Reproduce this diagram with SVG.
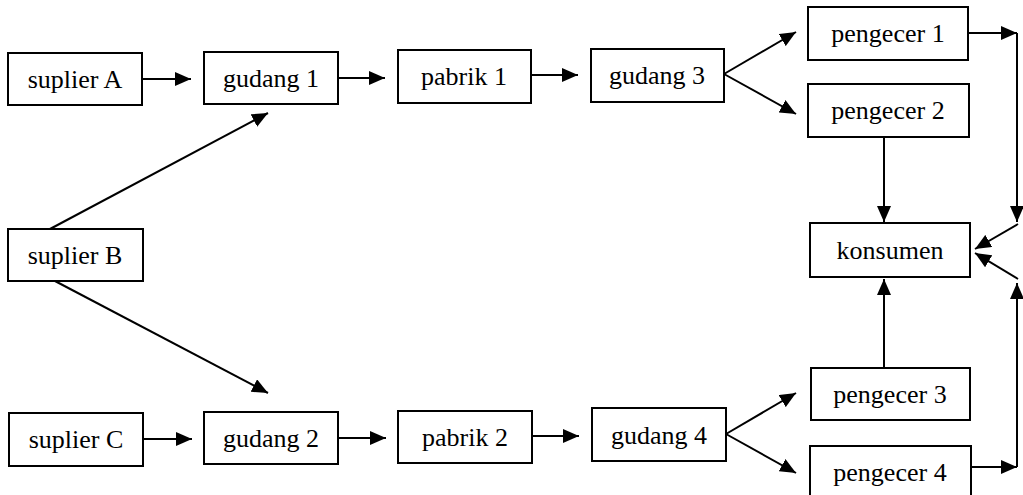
<svg xmlns="http://www.w3.org/2000/svg" width="1023" height="495" viewBox="0 0 1023 495">
<style>
.box{fill:#fff;stroke:#000;stroke-width:2}
.lbl{font-family:"Liberation Serif","Times New Roman",serif;font-size:26px;fill:#000;text-anchor:middle}
.ar{fill:none;stroke:#000;stroke-width:2;marker-end:url(#ah)}
</style>
<defs>
<marker id="ah" markerUnits="userSpaceOnUse" markerWidth="18" markerHeight="14" refX="16" refY="7" orient="auto">
<path d="M0,0 L16,7 L0,14 Z" fill="#000"/>
</marker>
</defs>
<rect width="1023" height="495" fill="#fff"/>
<g id="connectors">
<line class="ar" x1="142" y1="79" x2="191" y2="79"/>
<line class="ar" x1="338" y1="78" x2="385" y2="78"/>
<line class="ar" x1="531" y1="75" x2="578" y2="75"/>
<line class="ar" x1="724" y1="74" x2="796" y2="32"/>
<line class="ar" x1="724" y1="74" x2="796" y2="114"/>
<line class="ar" x1="968" y1="33" x2="1017" y2="33"/>
<line class="ar" x1="1017" y1="33" x2="1017" y2="222"/>
<line class="ar" x1="1018" y1="224" x2="975" y2="249"/>
<line class="ar" x1="884" y1="137" x2="884" y2="222"/>
<line class="ar" x1="884" y1="368" x2="884" y2="279"/>
<line class="ar" x1="971" y1="467" x2="1017" y2="467"/>
<line class="ar" x1="1017" y1="467" x2="1017" y2="283"/>
<line class="ar" x1="1018" y1="279" x2="975" y2="253"/>
<line class="ar" x1="50" y1="229" x2="268" y2="113"/>
<line class="ar" x1="55" y1="281" x2="268" y2="393"/>
<line class="ar" x1="143" y1="439" x2="192" y2="439"/>
<line class="ar" x1="338" y1="438" x2="386" y2="438"/>
<line class="ar" x1="532" y1="436" x2="579" y2="436"/>
<line class="ar" x1="726" y1="434" x2="796" y2="393"/>
<line class="ar" x1="726" y1="434" x2="796" y2="473"/>
</g>
<g id="suplierA"><rect class="box" x="8" y="53" width="134" height="52"/><text class="lbl" x="75" y="88">suplier A</text></g>
<g id="gudang1"><rect class="box" x="204" y="52" width="134" height="52"/><text class="lbl" x="271" y="87">gudang 1</text></g>
<g id="pabrik1"><rect class="box" x="398" y="50" width="133" height="53"/><text class="lbl" x="464" y="85">pabrik 1</text></g>
<g id="gudang3"><rect class="box" x="591" y="49" width="133" height="53"/><text class="lbl" x="657" y="84">gudang 3</text></g>
<g id="pengecer1"><rect class="box" x="808" y="7" width="160" height="53"/><text class="lbl" x="888" y="42">pengecer 1</text></g>
<g id="pengecer2"><rect class="box" x="808" y="84" width="161" height="53"/><text class="lbl" x="888" y="119">pengecer 2</text></g>
<g id="suplierB"><rect class="box" x="8" y="229" width="135" height="52"/><text class="lbl" x="75" y="264">suplier B</text></g>
<g id="konsumen"><rect class="box" x="810" y="223" width="160" height="54"/><text class="lbl" x="890" y="259">konsumen</text></g>
<g id="suplierC"><rect class="box" x="9" y="413" width="134" height="53"/><text class="lbl" x="76" y="448">suplier C</text></g>
<g id="gudang2"><rect class="box" x="204" y="412" width="134" height="52"/><text class="lbl" x="271" y="447">gudang 2</text></g>
<g id="pabrik2"><rect class="box" x="398" y="411" width="134" height="52"/><text class="lbl" x="465" y="446">pabrik 2</text></g>
<g id="gudang4"><rect class="box" x="592" y="408" width="134" height="53"/><text class="lbl" x="659" y="444">gudang 4</text></g>
<g id="pengecer3"><rect class="box" x="811" y="368" width="159" height="52"/><text class="lbl" x="890" y="403">pengecer 3</text></g>
<g id="pengecer4"><rect class="box" x="810" y="446" width="161" height="52"/><text class="lbl" x="890" y="481">pengecer 4</text></g>
</svg>
